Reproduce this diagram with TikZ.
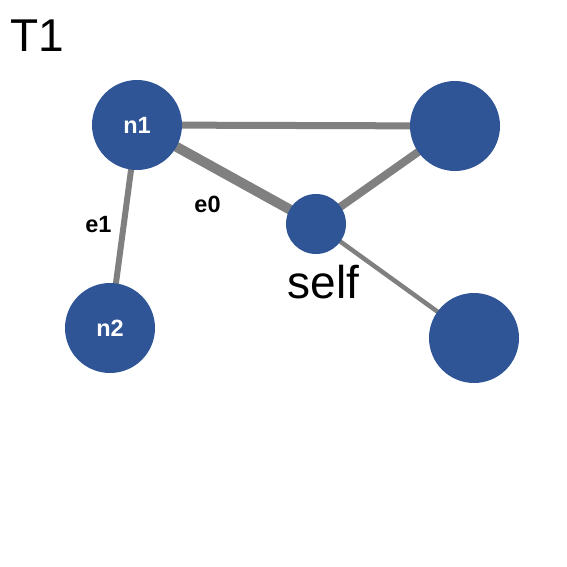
\documentclass[tikz,border=0pt]{standalone}
\usepackage{fontspec}
\setmainfont{Liberation Sans}
\usepackage{tikz}
\usepackage{xcolor}
\usetikzlibrary{positioning,backgrounds}
\definecolor{cA}{HTML}{2f5597}
\definecolor{cB}{HTML}{808080}
\tikzset{
  vtx/.style={circle,fill=cA,inner sep=0pt,minimum size=90pt,text=white,
    font=\fontsize{23.5}{28}\selectfont\bfseries},
  small/.style={vtx,minimum size=60pt},
  elabel/.style={inner sep=0pt,font=\fontsize{23.5}{28}\selectfont\bfseries},
  big/.style={inner sep=0pt,font=\fontsize{46}{52}\selectfont},
  edge/.style={cB},
}
\begin{document}
\begin{tikzpicture}[x=1pt,y=-1pt]
  \useasboundingbox (0,0) rectangle (567,567);
  \node[big,anchor=base west] (title) at (10,52) {T1};
  % vertices
  \node[vtx] (n1) at (137,125) {n1};
  \node[vtx] (n2) at (110,328) {n2};
  \node[small] (self) at (316,224) {};
  \node[vtx] (tr) at (455,126) {};
  \node[vtx] (br) at (474,338) {};
  \node[big,anchor=base west] (selflbl) at (287.5,298) {self};
  % edges
  \begin{scope}[on background layer]
    \draw[edge,line width=7pt] (n1.center) -- (tr.center);
    \draw[edge,line width=10pt] (n1.center) -- (self.center);
    \draw[edge,line width=8pt] (self.center) -- (tr.center);
    \draw[edge,line width=6pt] (n1.center) -- (n2.center);
    \draw[edge,line width=4.5pt] (self.center) -- (br.center);
  \end{scope}
  \node[elabel] (e0) at (207.5,204) {e0};
  \node[elabel] (e1) at (98.5,225) {e1};
\end{tikzpicture}
\end{document}
